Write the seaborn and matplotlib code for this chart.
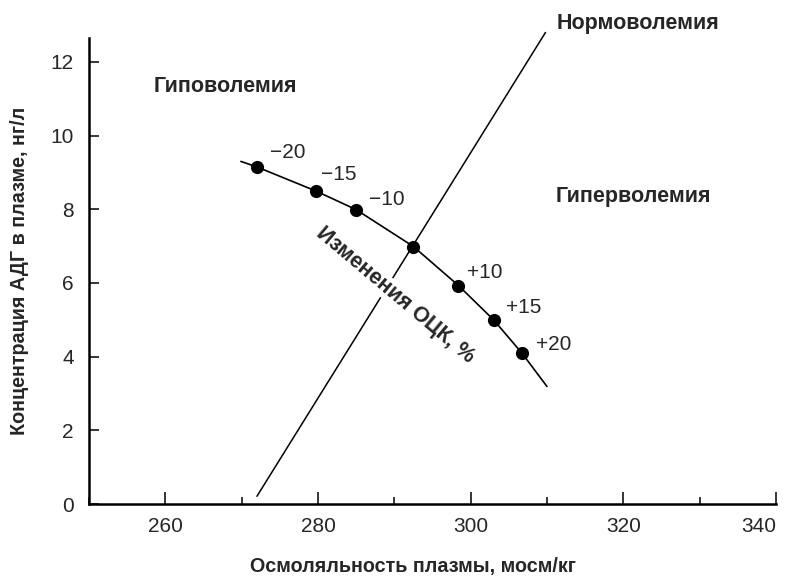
import matplotlib
matplotlib.use("Agg")
import matplotlib.pyplot as plt
import seaborn as sns
import pandas as pd
from matplotlib.ticker import MultipleLocator

# кривая изменения ОЦК (осмоляльность, АДГ)
curve_x = [269.9, 272.0, 279.8, 285.0, 292.5, 298.4, 303.0, 306.7, 310.0]
curve_y = [9.30, 9.15, 8.49, 7.99, 6.99, 5.93, 5.00, 4.10, 3.19]

# точки на кривой
dots_x = [272.0, 279.8, 285.0, 292.5, 298.4, 303.0, 306.7]
dots_y = [9.15, 8.49, 7.99, 6.99, 5.93, 5.00, 4.10]

# подписи изменений ОЦК, %
change_labels = ["\u221220", "\u221215", "\u221210", "+10", "+15", "+20"]
label_x = [276.0, 282.7, 289.0, 301.8, 306.9, 310.9]
label_y = [9.55, 8.94, 8.26, 6.29, 5.34, 4.33]

# линия нормоволемии
normo_x = [272.0, 309.8]
normo_y = [0.21, 12.8]

sns.set_style("ticks")
plt.rcParams["font.family"] = ["Liberation Sans", "DejaVu Sans"]

fig = plt.figure(figsize=(7.87, 5.82), dpi=100)
ax = fig.add_axes([89 / 787, 78 / 582, 687 / 787, 466 / 582])

df_curve = pd.DataFrame({"x": curve_x, "y": curve_y})
df_dots = pd.DataFrame({"x": dots_x, "y": dots_y})
df_normo = pd.DataFrame({"x": normo_x, "y": normo_y})

sns.lineplot(data=df_normo, x="x", y="y", ax=ax, color="black", lw=1.1,
             sort=False, estimator=None, zorder=1)
sns.lineplot(data=df_curve, x="x", y="y", ax=ax, color="black", lw=1.2,
             sort=False, estimator=None, zorder=3)
sns.scatterplot(data=df_dots, x="x", y="y", ax=ax, color="black", s=90,
                edgecolor="black", linewidth=0, zorder=4)
for line in ax.lines:
    line.set_clip_on(False)

for lab, lx, ly in zip(change_labels, label_x, label_y):
    ax.text(lx, ly, lab, ha="center", va="center", fontsize=15)

ax.text(290.1, 5.68, "Изменения ОЦК, %", rotation=-40, rotation_mode="anchor",
        ha="center", va="center", fontsize=15.5, fontweight="bold", zorder=2,
        bbox=dict(facecolor="white", edgecolor="none", pad=0.5))

ax.text(267.9, 11.34, "Гиповолемия", ha="center", va="center", fontsize=15.5, fontweight="bold")
ax.text(321.3, 8.35, "Гиперволемия", ha="center", va="center", fontsize=15.5, fontweight="bold")
ax.text(321.9, 13.04, "Нормоволемия", ha="center", va="center", fontsize=15.5,
        fontweight="bold", clip_on=False)

ax.set_xlim(250, 340)
ax.set_ylim(0, 12.65)
ax.xaxis.set_minor_locator(MultipleLocator(10))
ax.set_xticks([260, 280, 300, 320, 340])
ax.set_yticks([0, 2, 4, 6, 8, 10, 12])
ax.tick_params(axis="x", which="major", direction="in", length=9, width=1.1,
               labelsize=15, pad=9, color="black")
ax.tick_params(axis="x", which="minor", direction="in", length=5, width=1.1, color="black")
ax.tick_params(axis="y", direction="in", length=7, width=1.1, labelsize=15, pad=11,
               color="black")
ax.get_xticklabels()[-1].set_horizontalalignment("right")

sns.despine(ax=ax)
for s in ["left", "bottom"]:
    ax.spines[s].set_linewidth(1.8)
    ax.spines[s].set_color("black")

ax.set_xlabel("Осмоляльность плазмы, мосм/кг", fontsize=14.2, fontweight="bold")
ax.set_ylabel("Концентрация АДГ в плазме, нг/л", fontsize=14.2, fontweight="bold")
ax.xaxis.set_label_coords(0.471, -0.113)
ax.yaxis.set_label_coords(-0.088, 0.5)

fig.savefig("out.png", dpi=100)
